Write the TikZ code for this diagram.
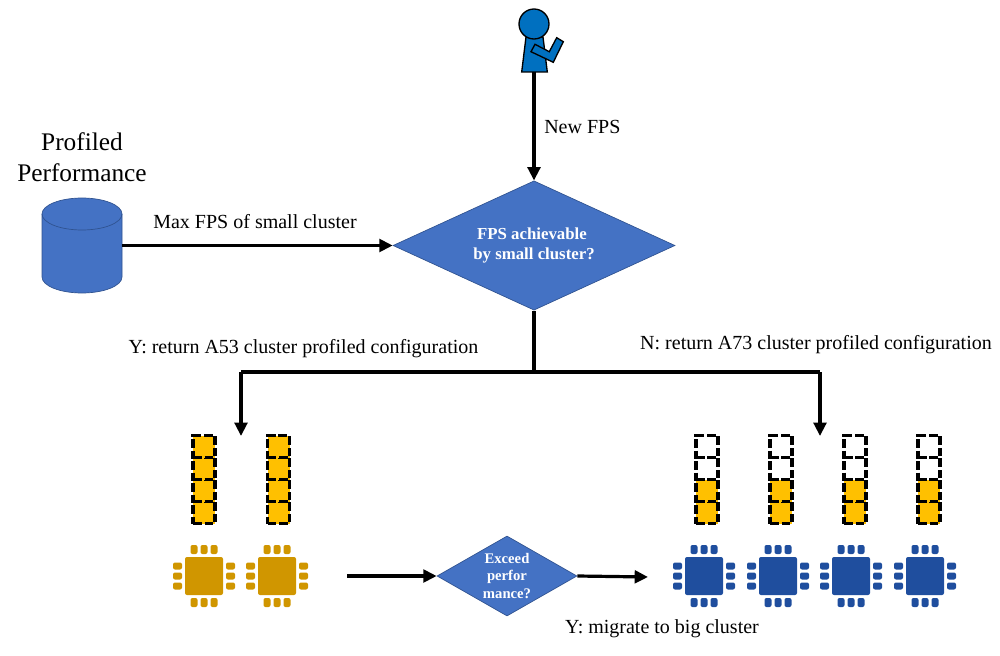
\documentclass[tikz,border=0pt]{standalone}
\usepackage{fontspec}
\setmainfont{Liberation Serif}
\usetikzlibrary{positioning, shapes, arrows.meta}
\definecolor{shapeblue}{HTML}{4472C4}
\definecolor{edgeblue}{HTML}{2F528F}
\definecolor{userblue}{HTML}{0070C0}
\definecolor{smallchip}{HTML}{D09600}
\definecolor{bigchip}{HTML}{1F4E9E}
\definecolor{taskgold}{HTML}{FFC000}
\tikzset{
    flow/.style={-{Triangle[length=10pt,width=9.5pt]}, line width=2.4pt, black},
    trunk/.style={line width=2.8pt, black},
    decision/.style={diamond, draw=edgeblue, line width=0.5pt, fill=shapeblue, text=white, align=center, inner sep=0pt},
    label/.style={font=\fontsize{15}{18}\selectfont, inner sep=0pt},
    cell/.style={draw=black, line width=2.5pt, dash pattern=on 6.5pt off 2.2pt, minimum width=16.5pt, minimum height=16.5pt, inner sep=0pt},
    pics/chip/.style={code={
        \fill[#1, rounded corners=1.5pt] (-19,-19) rectangle (19,19);
        \foreach \t in {-10,0,10} {
            \fill[#1, rounded corners=1.5pt] (\t-3.5,-31) rectangle (\t+3.5,-22); % top pins
            \fill[#1, rounded corners=1.5pt] (\t-3.5,22) rectangle (\t+3.5,31); % bottom pins
            \fill[#1, rounded corners=1.5pt] (-31,\t-3.5) rectangle (-22,\t+3.5); % left pins
            \fill[#1, rounded corners=1.5pt] (22,\t-3.5) rectangle (31,\t+3.5); % right pins
        }
    }}
}
\begin{document}
\begin{tikzpicture}[x=0.75pt,y=-0.75pt]
    \useasboundingbox (0,0) rectangle (1000,656);

    % User
    \draw[black, line width=1pt, fill=userblue] (526,37) -- (543,37) -- (547.3,72) -- (521.7,72) -- cycle;
    \node[circle, draw=black, line width=1pt, fill=userblue, minimum size=22.5pt, inner sep=0pt] (head) at (534,24) {};
    \draw[black, line width=1pt, fill=userblue] (535,44.3) -- (549.3,51.7) -- (556.7,37.7) -- (563.3,41.7) -- (553.3,62.3) -- (531,51.7) -- cycle;
    \coordinate (user) at (534,72);

    % Profiled data store
    \node[minimum width=60pt, minimum height=71pt, inner sep=0pt, outer sep=0pt] (store) at (82,245.5) {};
    \draw[edgeblue, line width=0.5pt, fill=shapeblue] (42,214) arc[start angle=180, end angle=360, x radius=40, y radius=16] -- (122,277) arc[start angle=0, end angle=180, x radius=40, y radius=16] -- cycle;
    \draw[edgeblue, line width=0.5pt] (42,214) arc[start angle=180, end angle=0, x radius=40, y radius=16];
    \node[font=\fontsize{19}{23.5}\selectfont, align=center, inner sep=0pt] (storename) at (82,157) {Profiled\\Performance};

    % Decisions
    \node[decision, shape aspect=2.4, minimum width=211.5pt, minimum height=97pt, font=\fontsize{12.6}{15}\selectfont\bfseries] (fpscheck) at (534,245.5) {FPS achievable\kern3pt\\ by small cluster?};
    \node[decision, shape aspect=1.75, minimum width=105pt, minimum height=60pt, font=\fontsize{11}{12.8}\selectfont\bfseries] (perfcheck) at (507,576) {Exceed\\perfor\\mance?};

    % Arrows into the first decision
    \draw[flow] (user) -- (fpscheck.north);
    \draw[flow] (store.east |- fpscheck.west) -- (fpscheck.west);
    \node[label, anchor=west] (newfps) at (544,127) {New FPS};
    \node[label] (maxfps) at (255,222) {Max FPS of small cluster};

    % Branches to both clusters
    \coordinate (fork) at (534,372);
    \coordinate (forkl) at (241,372);
    \coordinate (forkr) at (820,372);
    \coordinate (small) at (241,436);
    \coordinate (big) at (820,436);
    \draw[trunk] (fpscheck.south) -- (fork);
    \draw[trunk] (forkl) -- (forkr);
    \draw[flow] (forkl) -- (small);
    \draw[flow] (forkr) -- (big);
    \node[label] (yreturn) at (303.5,349) {Y: return A53 cluster profiled configuration};
    \node[label] (nreturn) at (816,345) {N: return A73 cluster profiled configuration};

    % Task slots, small cluster
    \foreach \x/\c in {204/a,278.5/b} {
        \foreach \i in {0,1,2,3} {
            \node[cell, fill=taskgold] (slot\c\i) at (\x,{512.5-22*\i}) {};
        }
    }

    % Task slots, big cluster
    \foreach \x/\c in {707/c,781/d,855/e,929/f} {
        \foreach \i in {0,1} {
            \node[cell, fill=taskgold] (slot\c\i) at (\x,{512.5-22*\i}) {};
        }
        \foreach \i in {2,3} {
            \node[cell] (slot\c\i) at (\x,{512.5-22*\i}) {};
        }
    }

    % Chips
    \foreach \x in {204,277} {
        \pic at (\x,576) {chip=smallchip};
    }
    \foreach \x in {704,778,851,925} {
        \pic at (\x,576) {chip=bigchip};
    }

    % Migration
    \coordinate (fromsmall) at (347,576);
    \coordinate (tobig) at (648,577);
    \draw[flow] (fromsmall) -- (perfcheck.west);
    \draw[flow] (perfcheck.east) -- (tobig);
    \node[label] (migrate) at (662,629) {Y: migrate to big cluster};
\end{tikzpicture}
\end{document}
